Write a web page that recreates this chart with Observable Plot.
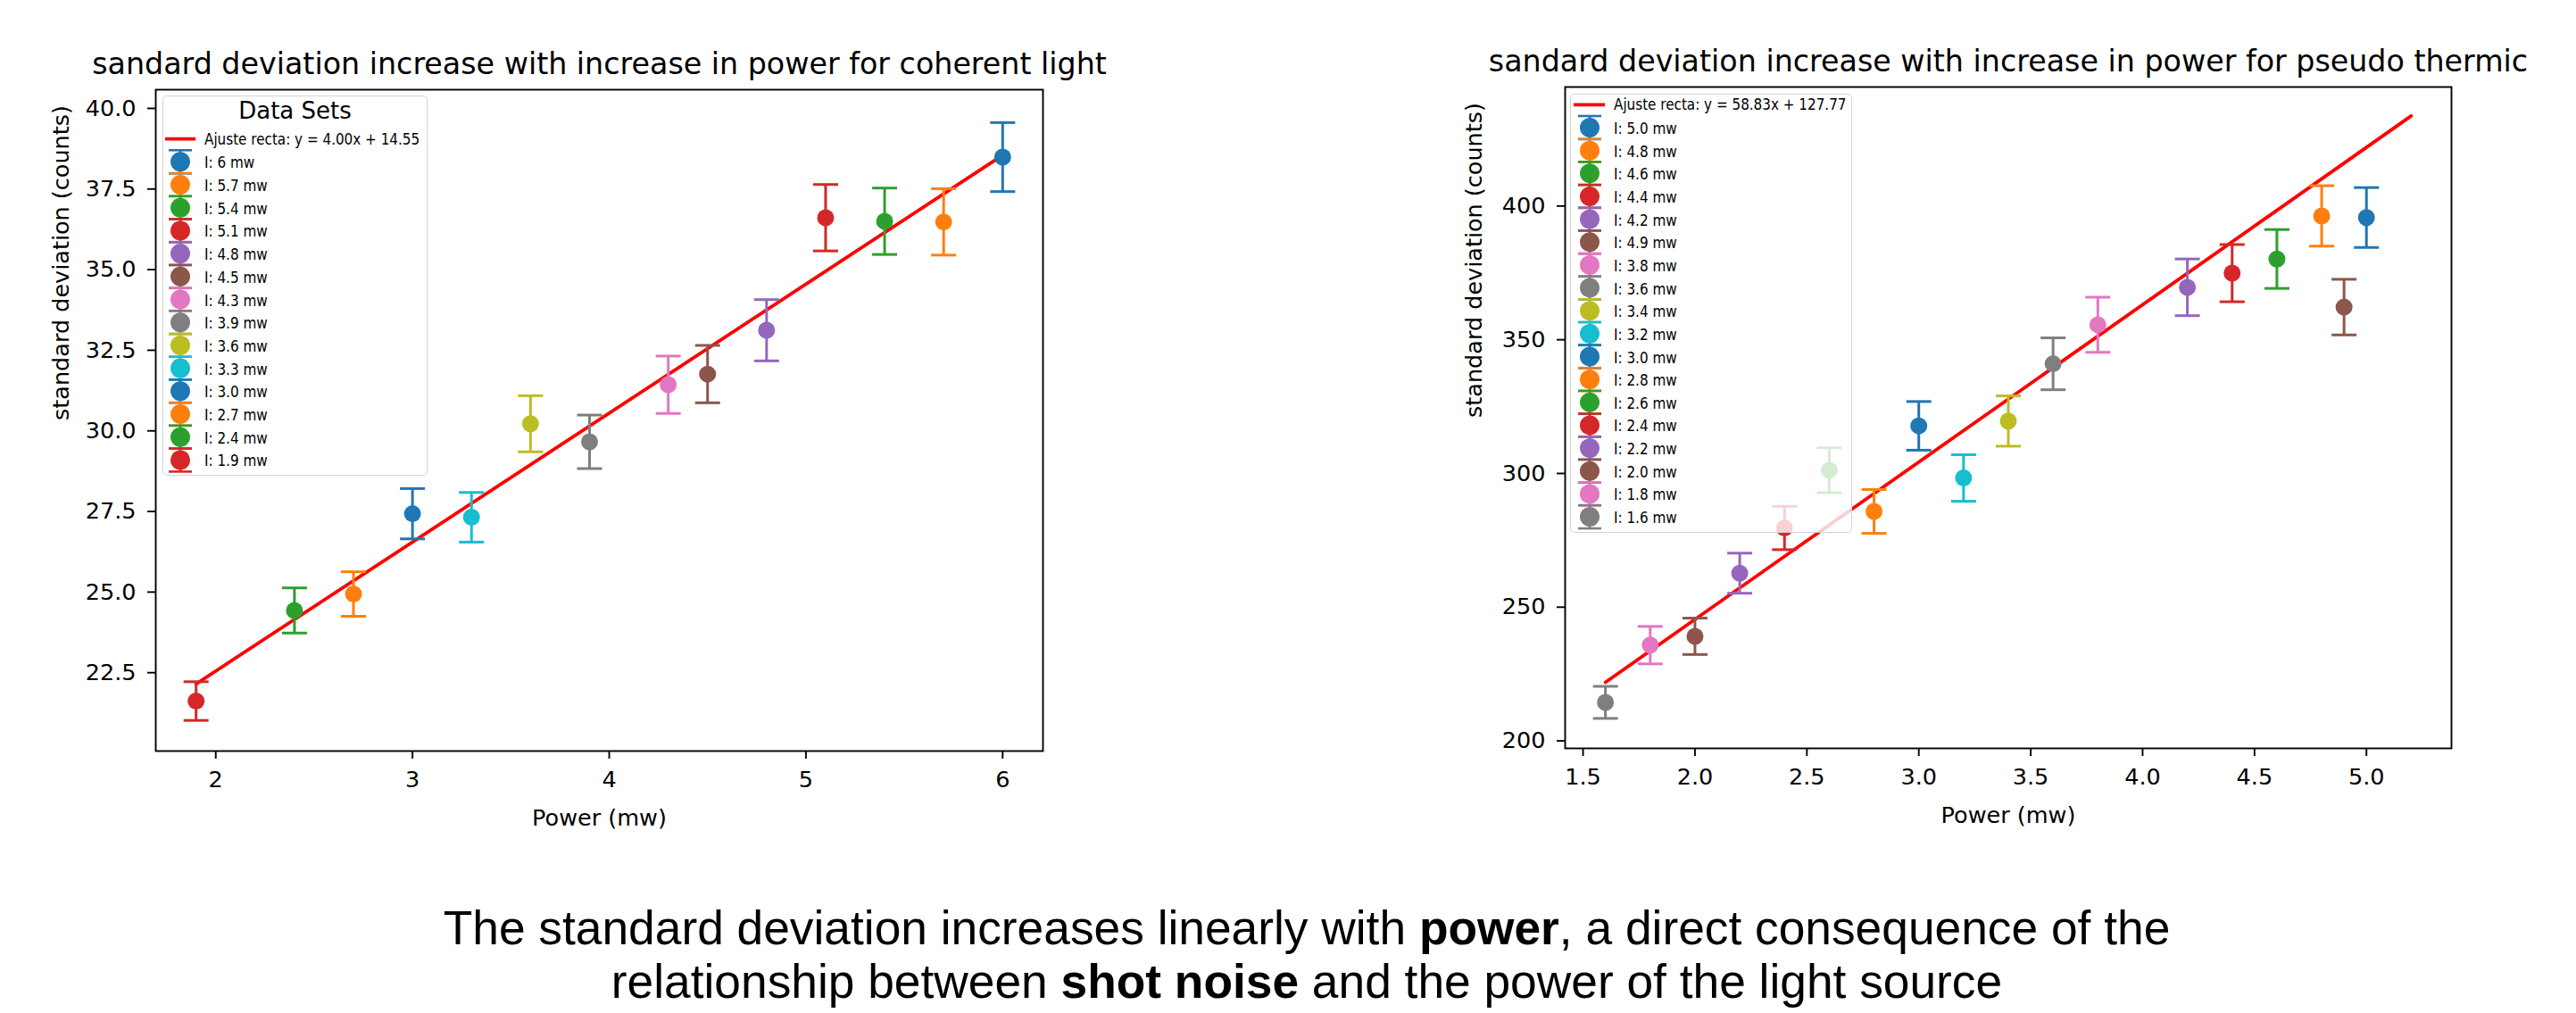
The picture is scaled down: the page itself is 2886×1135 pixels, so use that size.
<!DOCTYPE html>
<html>
<head>
<meta charset="utf-8">
<script src="https://cdn.jsdelivr.net/npm/d3@7"></script>
<script src="https://cdn.jsdelivr.net/npm/@observablehq/plot@0.6"></script>
<style>
html, body { margin: 0; padding: 0; background: #fff; }
#page { position: relative; width: 2886px; height: 1135px; overflow: hidden; background: #fff; }
.chart { position: absolute; top: 0; }
.chart svg { overflow: visible; }
.legend { position: absolute; background: rgba(255,255,255,0.8); border: 1.5px solid rgba(204,204,204,0.85); border-radius: 5px; box-sizing: border-box; }
.legend svg { position: absolute; left: -1.5px; top: -1.5px; overflow: visible; }
#caption { position: absolute; left: 0; width: 2928px; text-align: center; font-family: "Liberation Sans", Arial, sans-serif; font-size: 53.3px; line-height: 60px; color: #000; top: 1010px; }
</style>
</head>
<body>
<div id="page"></div>
<script>
// ---------- palette ----------
const tab10 = ["#1f77b4","#ff7f0e","#2ca02c","#d62728","#9467bd","#8c564b","#e377c2","#7f7f7f","#bcbd22","#17becf"];

// ---------- coherent light ----------
const cohTitle = "sandard deviation increase with increase in power for coherent light";
const cohLabels = ["6","5.7","5.4","5.1","4.8","4.5","4.3","3.9","3.6","3.3","3.0","2.7","2.4","1.9"];
const cohPower = [6.0,5.7,5.4,5.1,4.8,4.5,4.3,3.9,3.6,3.3,3.0,2.7,2.4,1.9];
const cohStd = [38.49,36.48,36.50,36.61,33.12,31.76,31.43,29.66,30.22,27.32,27.43,24.94,24.43,21.62];
const cohErr = [1.07,1.03,1.03,1.03,0.95,0.89,0.89,0.83,0.87,0.77,0.78,0.69,0.70,0.60];
const cohSlope = 4.00, cohIntercept = 14.55;
const cohFitLabel = "Ajuste recta: y = 4.00x + 14.55";
const cohFitX = [1.9, 6.0];
const cohXTicks = [2,3,4,5,6];
const cohYTicks = [22.5,25,27.5,30,32.5,35,37.5,40];

// ---------- pseudo thermic light ----------
const thTitle = "sandard deviation increase with increase in power for pseudo thermic";
const thLabels = ["5.0","4.8","4.6","4.4","4.2","4.9","3.8","3.6","3.4","3.2","3.0","2.8","2.6","2.4","2.2","2.0","1.8","1.6"];
const thPower = [5.0,4.8,4.6,4.4,4.2,4.9,3.8,3.6,3.4,3.2,3.0,2.8,2.6,2.4,2.2,2.0,1.8,1.6];
const thStd = [395.7,396.3,380.2,374.9,369.6,362.2,355.6,341.0,319.6,298.3,317.8,285.8,301.2,279.6,262.7,239.1,235.8,214.4];
const thErr = [11.2,11.3,11.0,10.7,10.6,10.4,10.3,9.7,9.4,8.7,9.1,8.2,8.4,8.1,7.5,6.8,7.0,6.0];
const thSlope = 58.83, thIntercept = 127.77;
const thFitLabel = "Ajuste recta: y = 58.83x + 127.77";
const thFitX = [1.6, 5.2];
const thXTicks = [1.5,2.0,2.5,3.0,3.5,4.0,4.5,5.0];
const thYTicks = [200,250,300,350,400];

const xLabel = "Power (mw)";
const yLabel = "standard deviation (counts)";

const page = document.getElementById("page");

// horizontal cap symbol for error bars
const capSymbol = {
  draw(ctx, size) {
    const r = Math.sqrt(size / Math.PI);
    ctx.moveTo(-r, 0);
    ctx.lineTo(r, 0);
  }
};

function makeChart(cfg) {
  const data = cfg.power.map((p, i) => ({x: p, y: cfg.std[i], e: cfg.err[i], col: tab10[i % 10]}));
  const fit = cfg.fitX.map(x => ({x, y: cfg.slope * x + cfg.intercept}));
  const fs = 25.5;
  const svg = Plot.plot({
    width: cfg.width, height: cfg.height,
    marginLeft: cfg.ml, marginRight: cfg.mr, marginTop: cfg.mt, marginBottom: cfg.mb,
    x: {domain: cfg.xDomain},
    y: {domain: cfg.yDomain},
    color: {type: "identity"},
    style: {fontFamily: "'DejaVu Sans', sans-serif", fontSize: fs + "px", color: "#000", background: "transparent", overflow: "visible"},
    marks: [
      Plot.axisX({ticks: cfg.xTicks, tickFormat: cfg.xFormat, tickSize: 9, tickPadding: 13, strokeWidth: 1.9, label: null, fontSize: fs}),
      Plot.axisY({ticks: cfg.yTicks, tickFormat: cfg.yFormat, tickSize: 9, tickPadding: 13, strokeWidth: 1.9, label: null, fontSize: fs}),
      Plot.line(fit, {x: "x", y: "y", stroke: "#ff0000", strokeWidth: 3.8}),
      Plot.ruleX(data, {x: "x", y1: d => d.y - d.e, y2: d => d.y + d.e, stroke: "col", strokeWidth: 3}),
      Plot.dot(data, {x: "x", y: d => d.y + d.e, symbol: capSymbol, r: 14, stroke: "col", fill: "none", strokeWidth: 3}),
      Plot.dot(data, {x: "x", y: d => d.y - d.e, symbol: capSymbol, r: 14, stroke: "col", fill: "none", strokeWidth: 3}),
      Plot.dot(data, {x: "x", y: "y", r: 9.5, fill: "col", stroke: null}),
      Plot.frame({stroke: "#000", strokeWidth: 1.9}),
      Plot.text([cfg.title], {text: d => d, frameAnchor: "top", dy: -28.6, fontSize: 33.3, lineAnchor: "middle", fill: "#000"}),
      Plot.text([yLabel], {text: d => d, frameAnchor: "left", dx: cfg.ylabelDx, rotate: -90, fontSize: fs, lineAnchor: "middle", fill: "#000"}),
      Plot.text([xLabel], {text: d => d, frameAnchor: "bottom", dy: 75.6, fontSize: fs, lineAnchor: "middle", fill: "#000"})
    ]
  });
  const div = document.createElement("div");
  div.className = "chart";
  div.style.left = cfg.left + "px";
  div.appendChild(svg);
  page.appendChild(div);
}

function makeLegend(cfg) {
  const box = document.createElement("div");
  box.className = "legend";
  Object.assign(box.style, {left: cfg.left + "px", top: cfg.top + "px", width: cfg.w + "px", height: cfg.h + "px"});
  page.appendChild(box);
  const svg = d3.select(box).append("svg").attr("width", cfg.w).attr("height", cfg.h)
    .style("font-family", "'DejaVu Sans Condensed', 'DejaVu Sans', sans-serif");
  if (cfg.title) {
    svg.append("text").attr("x", cfg.w / 2).attr("y", cfg.titleBase).attr("text-anchor", "middle")
      .style("font-family", "'DejaVu Sans', sans-serif").attr("font-size", 26).attr("fill", "#000").text(cfg.title);
  }
  // fit line entry
  svg.append("line").attr("x1", cfg.lineX1).attr("x2", cfg.lineX2).attr("y1", cfg.fitBase - 6).attr("y2", cfg.fitBase - 6)
    .attr("stroke", "#ff0000").attr("stroke-width", 3.8);
  svg.append("text").attr("x", cfg.textX).attr("y", cfg.fitBase).attr("font-size", cfg.fs).attr("fill", "#000").text(cfg.fitLabel);
  cfg.labels.forEach((lab, i) => {
    const base = cfg.rowBase + i * cfg.rowStep;
    const cy = base - 7;
    const col = tab10[i % 10];
    const g = svg.append("g");
    g.append("line").attr("x1", cfg.hx).attr("x2", cfg.hx).attr("y1", cy - 13).attr("y2", cy + 13).attr("stroke", col).attr("stroke-width", 2.6);
    g.append("line").attr("x1", cfg.hx - 13).attr("x2", cfg.hx + 13).attr("y1", cy - 13).attr("y2", cy - 13).attr("stroke", col).attr("stroke-width", 2.6);
    g.append("line").attr("x1", cfg.hx - 13).attr("x2", cfg.hx + 13).attr("y1", cy + 13).attr("y2", cy + 13).attr("stroke", col).attr("stroke-width", 2.6);
    g.append("circle").attr("cx", cfg.hx).attr("cy", cy).attr("r", 11).attr("fill", col);
    svg.append("text").attr("x", cfg.textX).attr("y", base).attr("font-size", cfg.fs).attr("fill", "#000").text("I: " + lab + " mw");
  });
}

makeChart({
  left: 0, width: 1250, height: 960, ml: 174, mr: 82, mt: 100, mb: 119,
  power: cohPower, std: cohStd, err: cohErr, slope: cohSlope, intercept: cohIntercept, fitX: cohFitX,
  xDomain: [1.695, 6.205], yDomain: [20.07, 40.58],
  xTicks: cohXTicks, yTicks: cohYTicks, xFormat: d3.format("d"), yFormat: d3.format(".1f"),
  title: cohTitle, ylabelDx: -106
});

makeChart({
  left: 1600, width: 1286, height: 960, ml: 153, mr: 140, mt: 97, mb: 122,
  power: thPower, std: thStd, err: thErr, slope: thSlope, intercept: thIntercept, fitX: thFitX,
  xDomain: [1.42, 5.38], yDomain: [197.2, 444.5],
  xTicks: thXTicks, yTicks: thYTicks, xFormat: d3.format(".1f"), yFormat: d3.format("d"),
  title: thTitle, ylabelDx: -102
});

makeLegend({
  left: 182, top: 107, w: 297, h: 426, title: "Data Sets", titleBase: 26.3,
  fitLabel: cohFitLabel, fitBase: 54.7, lineX1: 3, lineX2: 37, textX: 47, hx: 20,
  labels: cohLabels, rowBase: 81.3, rowStep: 25.7, fs: 16.9
});

makeLegend({
  left: 1759, top: 105, w: 316, h: 492, title: null,
  fitLabel: thFitLabel, fitBase: 18.3, lineX1: 4, lineX2: 39, textX: 49, hx: 22,
  labels: thLabels, rowBase: 45, rowStep: 25.65, fs: 16.9
});

const cap = document.createElement("div");
cap.id = "caption";
cap.innerHTML = '<div>The standard deviation increases linearly with <b>power</b>, a direct consequence of the</div>' +
  '<div>relationship between <b>shot noise</b> and the power of the light source</div>';
page.appendChild(cap);
</script>
</body>
</html>
